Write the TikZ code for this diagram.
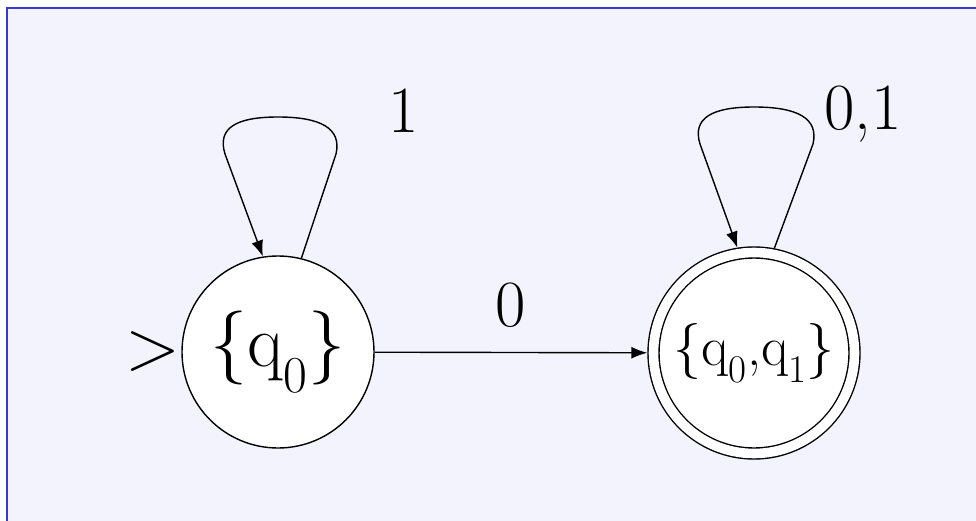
\documentclass[tikz,border=0pt]{standalone}
\usepackage{fontspec}
\usepackage{tikz}
\usetikzlibrary{arrows.meta, positioning}
\definecolor{slidebg}{RGB}{243,243,254}
\definecolor{slideframe}{RGB}{56,56,210}

\begin{document}
\begin{tikzpicture}[x=1pt, y=-1pt, line width=1.4pt,
    state/.style={circle, draw, fill=white, inner sep=0pt, minimum size=192pt},
    accept/.style={state, double, double distance=9.6pt, minimum size=201pt, outer sep=6.2pt},
    lbl/.style={inner sep=0pt, font=\fontsize{66}{70}\selectfont},
    >={Latex[length=16pt, width=12pt]}]
    \useasboundingbox (0,0) rectangle (976,521);
    \fill[slidebg] (7,8) rectangle (976,521);
    \draw[slideframe, line width=2.6pt] (976,8) -- (7,8) -- (7,521);

    \node[state, font=\fontsize{74}{80}\selectfont] (q0) at (278,352) {\{q\textsubscript{0}\}};
    \node[accept, font=\fontsize{56}{60}\selectfont] (q01) at (754,353) {\{q\textsubscript{0},q\textsubscript{1}\}};
    \node[left=0pt of q0, inner sep=0pt, font=\fontsize{72}{76}\selectfont] (init) {>};

    \draw[->] (q0) -- node[lbl, above=24pt] (l0) {0} (q01);

    % self loops
    \draw[->, shift={(q0)}] (q0.76) -- (58,-198) .. controls (64,-224) and (42,-235) .. (0,-235)
        .. controls (-42,-235) and (-61,-224) .. (-53,-198) -- (q0.99);
    \draw[->, shift={(q01)}] (q01.79) -- (59,-209) .. controls (65,-235) and (43,-246) .. (0,-246)
        .. controls (-42,-246) and (-62,-235) .. (-54,-209) -- (q01.99);
    \node[lbl, anchor=base] (l1) at (404,133) {1};
    \node[lbl, anchor=base] (l01) at (863,130) {0,1};
\end{tikzpicture}
\end{document}
